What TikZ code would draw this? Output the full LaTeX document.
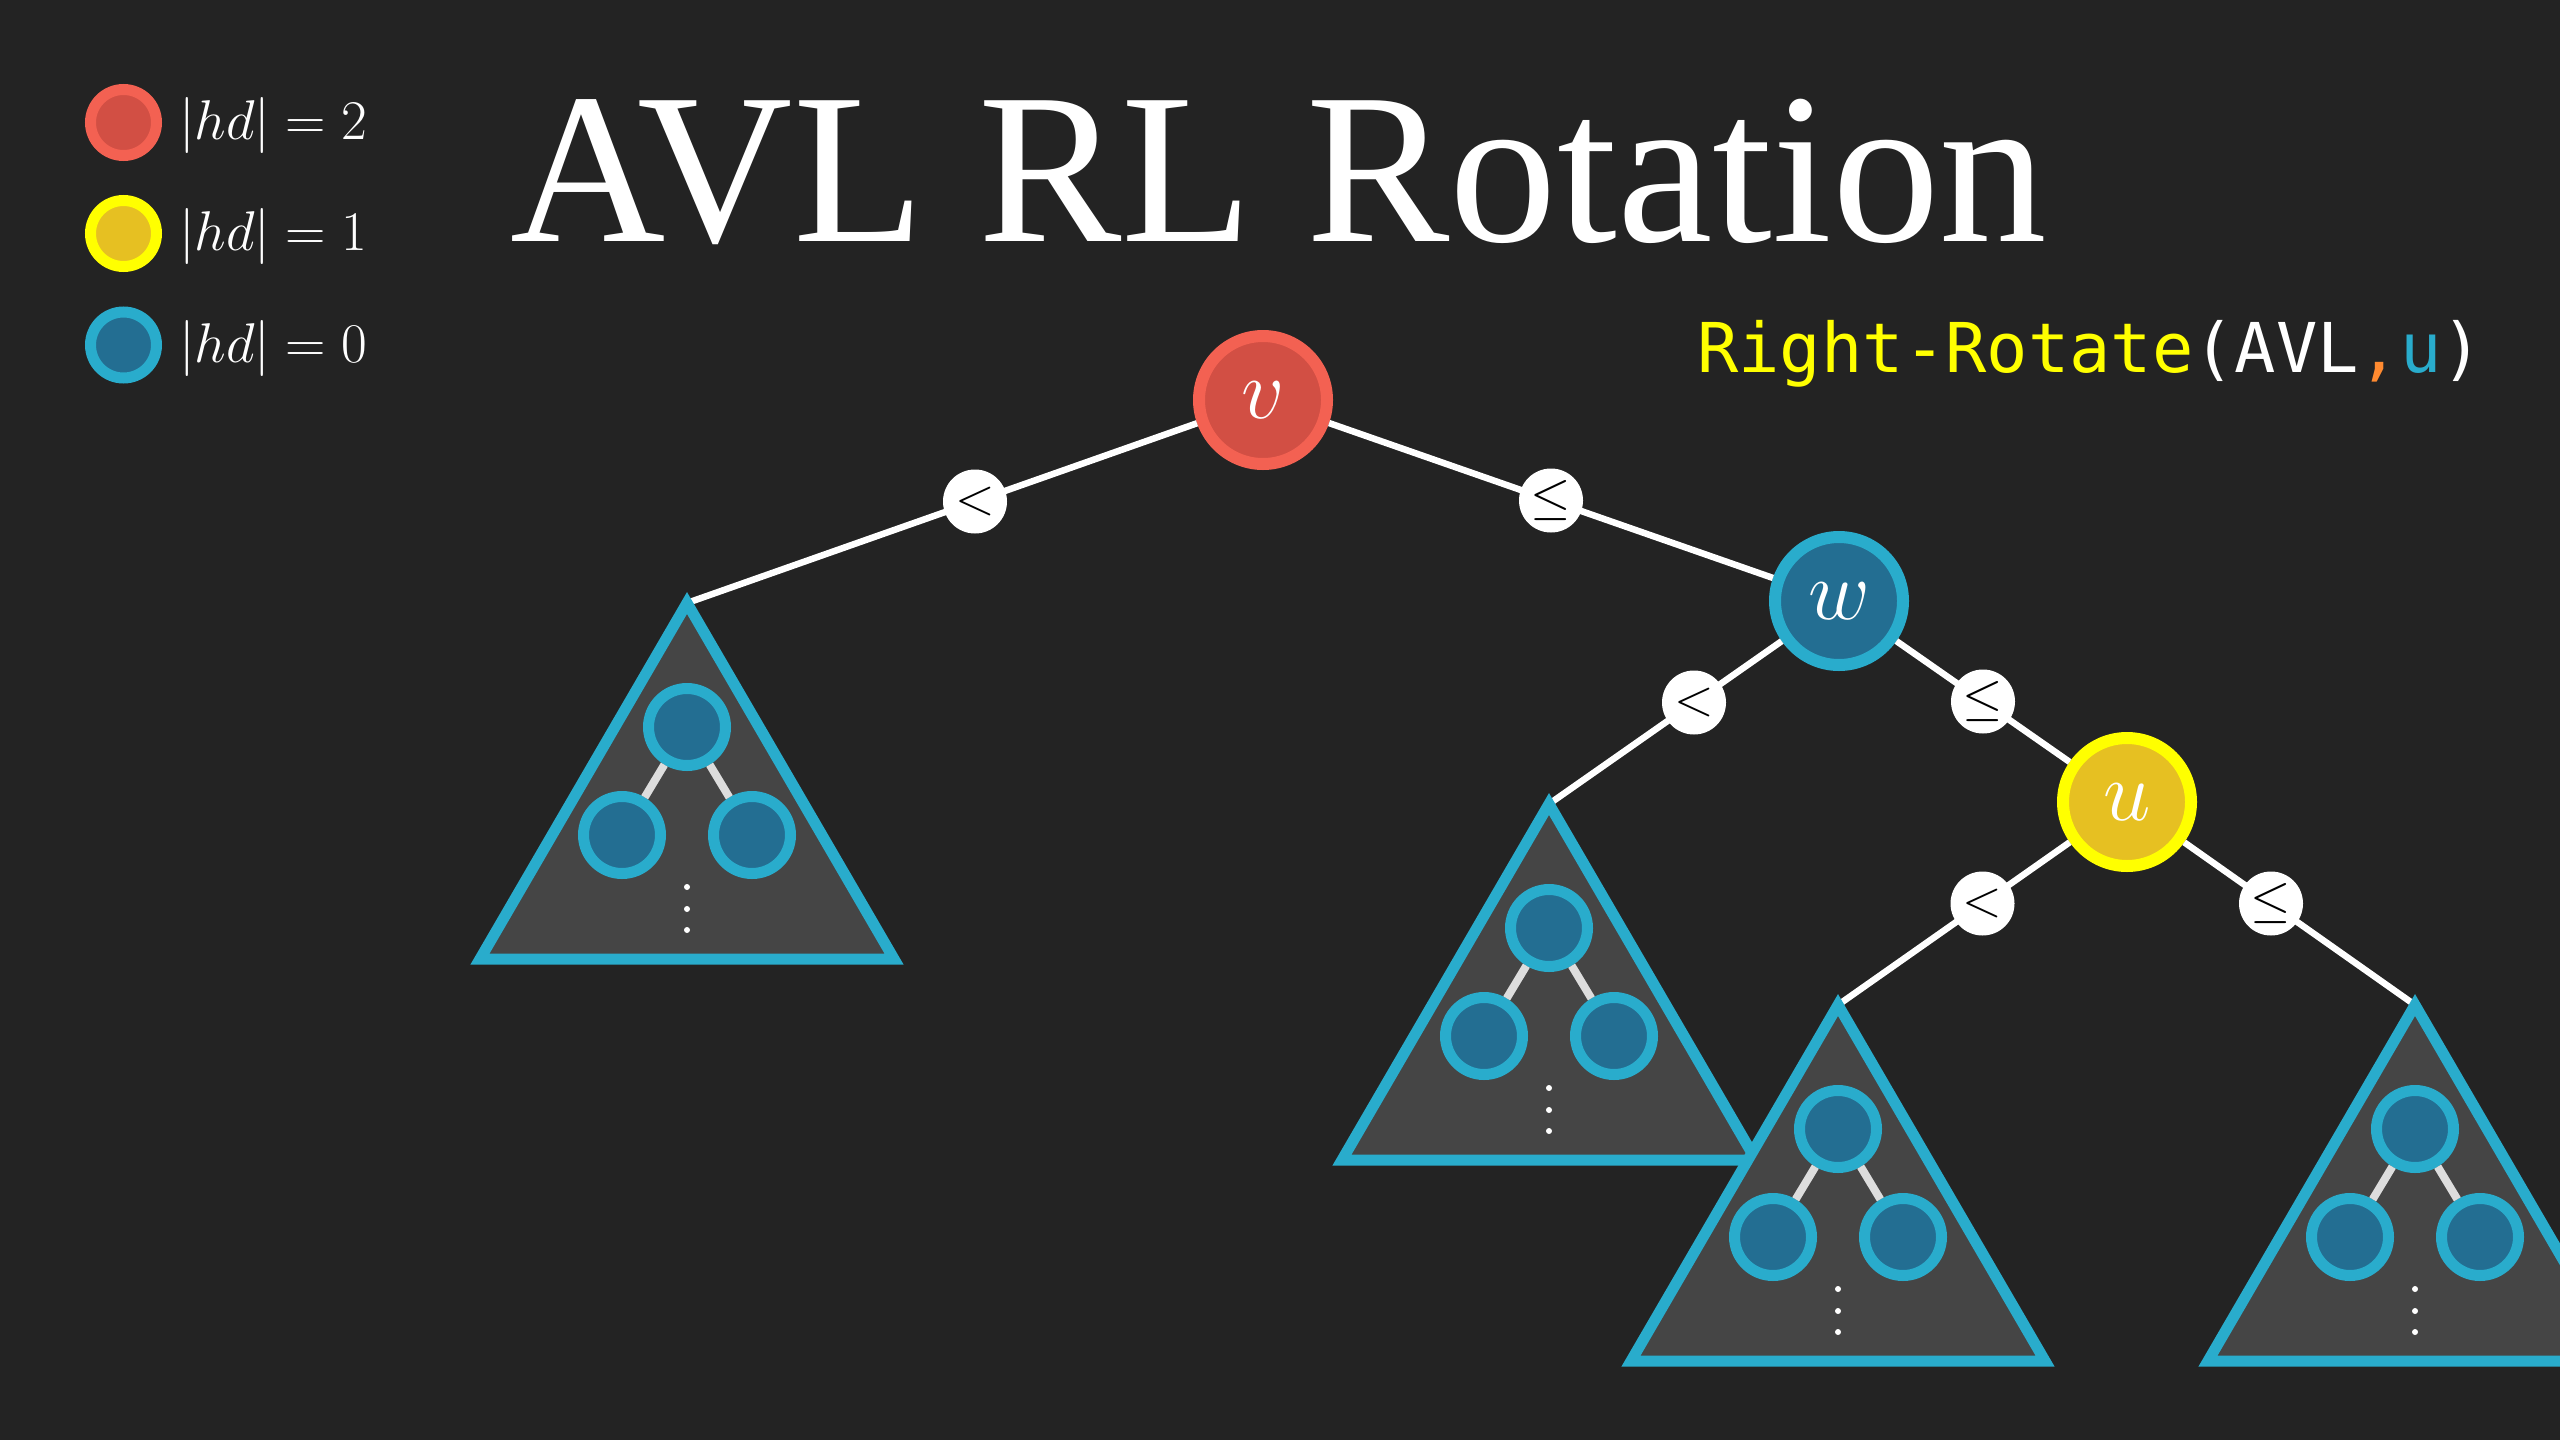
\RequirePackage{fix-cm}
\documentclass[tikz,border=0pt]{standalone}
\usepackage{fontspec}
\newfontfamily\codefont{DejaVu Sans Mono}
\newfontfamily\titlefont{Liberation Serif}
\usetikzlibrary{calc}
\definecolor{bgc}{HTML}{232323}
\definecolor{redring}{HTML}{F36152}
\definecolor{redfill}{HTML}{D24F44}
\definecolor{yelring}{HTML}{FFFF00}
\definecolor{yelfill}{HTML}{E6C022}
\definecolor{bluering}{HTML}{29ACCC}
\definecolor{bluefill}{HTML}{236E92}
\definecolor{trifill}{HTML}{454545}
\definecolor{innerline}{HTML}{DDDDDD}
\definecolor{codeyellow}{HTML}{FFFF00}
\definecolor{codeorange}{HTML}{FF8A30}
\newcommand{\SubTree}[1]{%
  \draw[tri] (#1) -- ++(-207,356) -- ++(414,0) -- cycle;
  \node[subdot] (#1a) at ($(#1)+(0,124)$) {};
  \node[subdot] (#1b) at ($(#1)+(-65,232)$) {};
  \node[subdot] (#1c) at ($(#1)+(65,232)$) {};
  \draw[subedge] (#1a) -- (#1b) (#1a) -- (#1c);
  \foreach \dy in {284,306,327} \fill[white] ($(#1)+(0,\dy)$) circle (3);
}
\begin{document}
\begin{tikzpicture}[x=1pt,y=-1pt,
  every node/.style={inner sep=0pt},
  bignode/.style={circle, minimum size=128pt, line width=12pt, text=white, font=\fontsize{85}{85}\selectfont},
  rednode/.style={bignode, draw=redring, fill=redfill},
  yelnode/.style={bignode, draw=yelring, fill=yelfill},
  bluenode/.style={bignode, draw=bluering, fill=bluefill},
  legdot/.style={circle, minimum size=66pt, line width=11pt},
  legtext/.style={anchor=west, text=white, font=\fontsize{56}{56}\selectfont},
  subdot/.style={circle, minimum size=77pt, line width=11pt, draw=bluering, fill=bluefill},
  edgeline/.style={white, line width=6.5pt},
  subedge/.style={innerline, line width=8pt},
  lbl/.style={circle, fill=white, minimum size=64pt, text=black, font=\fontsize{52}{52}\selectfont},
  tri/.style={draw=bluering, fill=trifill, line width=11pt, line join=miter},
]
\useasboundingbox (0,0) rectangle (2560,1440);
\fill[bgc] (0,0) rectangle (2560,1440);
\clip (0,0) rectangle (2560,1440);

% legend
\node[legdot, draw=redring, fill=redfill] (lr) at (123.5,122.5) {};
\node[legdot, draw=yelring, fill=yelfill] (ly) at (123.5,233.5) {};
\node[legdot, draw=bluering, fill=bluefill] (lb) at (123.5,345) {};
\node[legtext] (lrt) at (179,125.5) {$|hd| = 2$};
\node[legtext] (lyt) at (179,236.5) {$|hd| = 1$};
\node[legtext] (lbt) at (179,348) {$|hd| = 0$};

% title
\node[anchor=base west, text=white, font=\titlefont\fontsize{215}{215}\selectfont] (title) at (510,241) {AVL RL Rotation};

% code
\node[anchor=base west, font=\codefont\fontsize{68.7}{68.7}\selectfont] (code) at (1697,372)
  {\textcolor{codeyellow}{Right-Rotate}\textcolor{white}{(AVL}\textcolor{codeorange}{,}\textcolor{bluering}{u}\textcolor{white}{)}};

% main nodes
\node[rednode] (v) at (1263,400) {$v$};
\node[bluenode] (w) at (1839,601) {$w$};
\node[yelnode] (u) at (2127,802) {$u$};

\coordinate (t1) at (687,603);
\coordinate (t2) at (1549,804);
\coordinate (t3) at (1838,1005);
\coordinate (t4) at (2415,1005);

\draw[edgeline] (v) -- (t1);
\draw[edgeline] (v) -- (w);
\draw[edgeline] (w) -- (t2);
\draw[edgeline] (w) -- (u);
\draw[edgeline] (u) -- (t3);
\draw[edgeline] (u) -- (t4);

\SubTree{t1}
\SubTree{t2}
\SubTree{t3}
\SubTree{t4}

\node[lbl] (l1) at ($(v)!0.5!(t1)$) {$<$};
\node[lbl] (l2) at ($(v)!0.5!(w)$) {$\leq$};
\node[lbl] (l3) at ($(w)!0.5!(t2)$) {$<$};
\node[lbl] (l4) at ($(w)!0.5!(u)$) {$\leq$};
\node[lbl] (l5) at ($(u)!0.5!(t3)$) {$<$};
\node[lbl] (l6) at ($(u)!0.5!(t4)$) {$\leq$};
\end{tikzpicture}
\end{document}
